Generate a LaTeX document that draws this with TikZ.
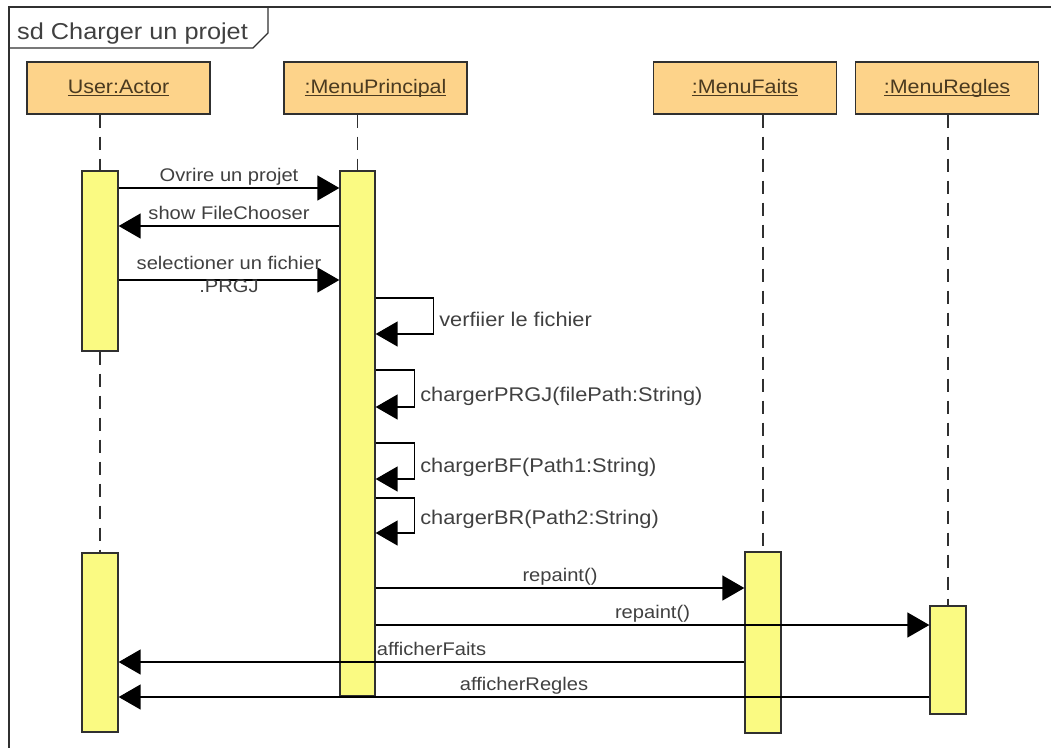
\documentclass[tikz,border=0pt]{standalone}
\usepackage{fontspec}
\setmainfont{Liberation Sans}[FakeStretch=1.1]
\usetikzlibrary{arrows.meta}

\definecolor{headfill}{HTML}{FDD38A}
\definecolor{barfill}{HTML}{FAFA82}
\definecolor{ink}{HTML}{303030}
\definecolor{txt}{HTML}{404040}
\definecolor{headtxt}{HTML}{4A3A20}

% underlined object name, rule at a fixed depth below the baseline
\newsavebox\ulbox
\newcommand\ulabel[1]{\sbox\ulbox{#1}\rlap{\rule[-3pt]{\wd\ulbox}{1pt}}\usebox\ulbox}

\begin{document}
\begin{tikzpicture}[x=1pt,y=-1pt,
  head/.style={draw=ink, line width=1.3pt, fill=headfill, minimum width=183pt,
    minimum height=52pt, inner sep=0pt, text=headtxt, text height=14pt, text depth=4pt,
    font=\fontsize{19.5}{22}\selectfont},
  actbar/.style={draw=ink, line width=1.3pt, fill=barfill, minimum width=36pt, inner sep=0pt},
  lifeline/.style={draw=ink, line width=1.3pt, dash pattern=on 13pt off 9pt},
  msg/.style={draw=black, line width=1.4pt, -{Triangle[length=22pt,width=25pt]}},
  msglabel/.style={text=txt, font=\fontsize{18.3}{23}\selectfont, inner sep=2pt,
    text height=13.5pt, text depth=4pt},
  looplabel/.style={text=txt, font=\fontsize{19.8}{23}\selectfont, anchor=west,
    inner sep=0pt, xshift=5pt, text height=14pt, text depth=4.5pt},
]
\useasboundingbox (0,0) rectangle (1051,747);

% frame and its name tab
\draw[ink, line width=1.4pt] (9,770) -- (9,7) -- (1070,7);
\draw[ink, line width=1.4pt] (9,48) -- (253,48) -- (268,33) -- (268,7);
\node[anchor=base west, inner sep=0pt, text=txt, font=\fontsize{23}{26}\selectfont]
  (title) at (17,39) {sd Charger un projet};

% object heads
\node[head] (uh)  at (118.5,88) {\ulabel{User:Actor}};
\node[head] (mph) at (375.5,88) {\ulabel{:MenuPrincipal}};
\node[head] (mfh) at (745,88)   {\ulabel{:MenuFaits}};
\node[head] (mrh) at (947,88)   {\ulabel{:MenuRegles}};

% activation bars
\node[actbar, minimum height=180pt] (ub1) at (100,261) {};
\node[actbar, minimum height=179pt] (ub2) at (100,642.5) {};
\node[actbar, minimum width=35pt, minimum height=525pt] (mpb) at (357.5,433.5) {};
\node[actbar, minimum height=181pt] (mfb) at (763,642.5) {};
\node[actbar, minimum height=108pt] (mrb) at (948,660) {};

% lifelines
\draw[lifeline] (ub1.north |- uh.south) -- (ub1.north);
\draw[lifeline] (ub1.south) -- (ub2.north);
\draw[lifeline] (mpb.north |- mph.south) -- (mpb.north);
\draw[lifeline] (mfb.north |- mfh.south) -- (mfb.north);
\draw[lifeline] (mrb.north |- mrh.south) -- (mrb.north);

% messages between User and MenuPrincipal
\draw[msg] (ub1.east |- 0,188) -- node[msglabel, above] {Ovrire un projet} (mpb.west |- 0,188);
\draw[msg] (mpb.west |- 0,226) -- node[msglabel, above] {show FileChooser} (ub1.east |- 0,226);
\draw[msg] (ub1.east |- 0,280) -- node[text=txt, font=\fontsize{18.3}{23}\selectfont,
  inner sep=0pt, align=center, anchor=north, yshift=24pt]
  {selectioner un fichier\\.PRGJ} (mpb.west |- 0,280);

% self calls of MenuPrincipal
\draw[msg] (mpb.east |- 0,298) -- ++(58,0) -- ++(0,36)
  node[looplabel, pos=0.67] {verfiier le fichier} -- (mpb.east |- 0,334);
\draw[msg] (mpb.east |- 0,370) -- ++(39,0) -- ++(0,37)
  node[looplabel, pos=0.73] {chargerPRGJ(filePath:String)} -- (mpb.east |- 0,407);
\draw[msg] (mpb.east |- 0,443) -- ++(39,0) -- ++(0,36)
  node[looplabel, pos=0.7] {chargerBF(Path1:String)} -- (mpb.east |- 0,479);
\draw[msg] (mpb.east |- 0,498) -- ++(39,0) -- ++(0,35)
  node[looplabel, pos=0.62] {chargerBR(Path2:String)} -- (mpb.east |- 0,533);

% refresh of the two views and the replies to User
\draw[msg] (mpb.east |- 0,588) -- node[msglabel, above] {repaint()} (mfb.west |- 0,588);
\draw[msg] (mpb.east |- 0,625) -- node[msglabel, above] {repaint()} (mrb.west |- 0,625);
\draw[msg] (mfb.west |- 0,662) -- node[msglabel, above] {afficherFaits} (ub2.east |- 0,662);
\draw[msg] (mrb.west |- 0,697) -- node[msglabel, above] {afficherRegles} (ub2.east |- 0,697);
\end{tikzpicture}
\end{document}
